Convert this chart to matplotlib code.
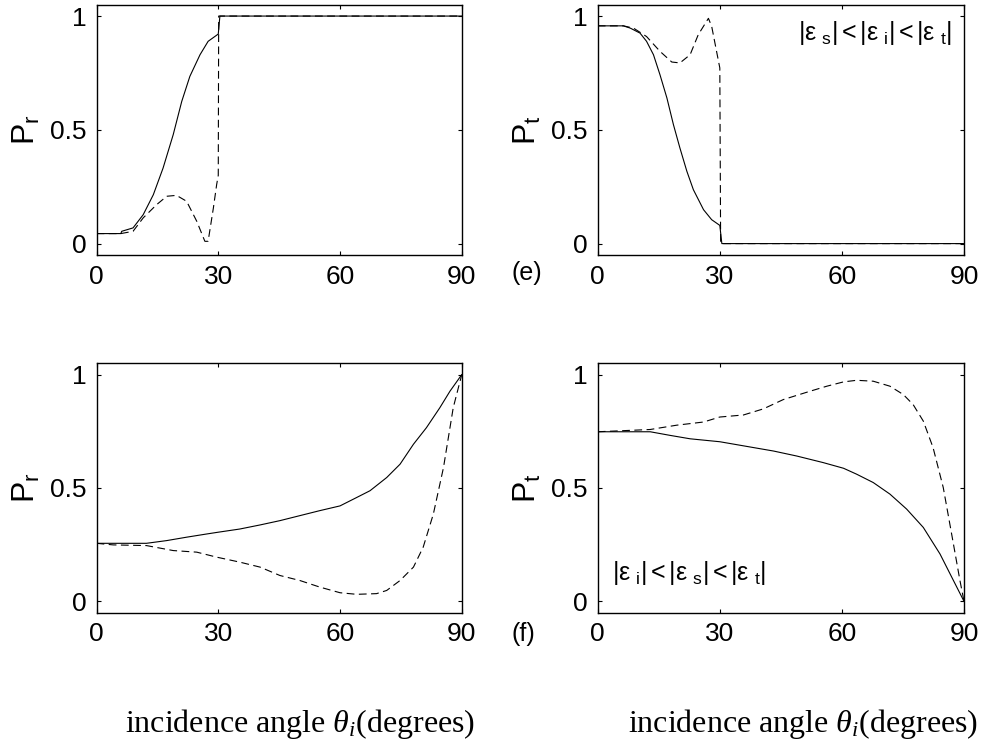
import matplotlib
matplotlib.use("Agg")
import matplotlib.pyplot as plt

plt.rcParams["font.family"] = ["Liberation Sans", "DejaVu Sans"]
plt.rcParams["mathtext.fontset"] = "custom"
plt.rcParams["mathtext.rm"] = "Liberation Serif"
plt.rcParams["mathtext.it"] = "Liberation Serif:italic"

# (e) |eps_s|<|eps_i|<|eps_t| : reflected power
e_r_ang = [0, 6, 6.2, 9, 11.5, 14, 16.4, 18.9, 21, 23, 25.5, 27.5, 30, 30.4, 90]
e_r_solid = [0.044, 0.044, 0.054, 0.069, 0.127, 0.215, 0.332, 0.479, 0.625, 0.735,
             0.83, 0.889, 0.921, 1.0, 1.0]
e_r_dash_ang = [0, 6, 9, 11.5, 14.8, 17.3, 19.7, 22.2, 24.7, 26.7, 27.5, 28.8,
                29.6, 30.0, 30.1, 90]
e_r_dash = [0.044, 0.044, 0.054, 0.113, 0.171, 0.208, 0.212, 0.186, 0.098, 0.01,
            0.01, 0.157, 0.259, 0.3, 1.0, 1.0]

# (e) transmitted power
e_t_ang = [0, 6.3, 8, 10.4, 12, 13.7, 15.3, 17, 18.6, 20.2, 21.9, 23.5, 26, 28, 30,
           30.5, 90]
e_t_solid = [0.957, 0.957, 0.947, 0.925, 0.889, 0.83, 0.742, 0.64, 0.523, 0.42, 0.318,
             0.237, 0.149, 0.105, 0.08, 0.0, 0.0]
e_t_dash_ang = [0, 6.3, 8.8, 12, 15.3, 18.2, 20.2, 22.7, 24.7, 27.2, 28, 29.2, 30,
                30.2, 90]
e_t_dash = [0.957, 0.957, 0.947, 0.91, 0.845, 0.798, 0.794, 0.83, 0.918, 0.99, 0.955,
            0.845, 0.772, 0.0, 0.0]

# (f) |eps_i|<|eps_s|<|eps_t| : reflected power
f_r_ang = [0, 12.3, 17.3, 22.2, 27.1, 30, 35.3, 40.3, 45.2, 50.1, 55, 60, 64.1, 67.4,
           71.5, 74.8, 78.1, 81.3, 84.6, 87.1, 90]
f_r_solid = [0.256, 0.256, 0.268, 0.283, 0.297, 0.305, 0.319, 0.337, 0.356, 0.378, 0.4,
             0.421, 0.458, 0.488, 0.546, 0.605, 0.693, 0.766, 0.854, 0.927, 1.0]
f_r_dash_ang = [0, 4.1, 12.3, 18.9, 24.7, 29.6, 35.3, 40.3, 45.2, 50.1, 55, 60, 64.1,
                69, 71.5, 74.8, 78.1, 80.5, 83, 85.5, 87.9, 90]
f_r_dash = [0.256, 0.249, 0.246, 0.224, 0.217, 0.195, 0.173, 0.151, 0.114, 0.092, 0.063,
            0.038, 0.031, 0.034, 0.048, 0.092, 0.151, 0.239, 0.385, 0.59, 0.854, 1.0]

# (f) transmitted power
f_t_ang = [0, 12.9, 17.8, 22.7, 30, 37.4, 43.2, 48.9, 55.4, 60.4, 63.6, 67.7, 71.8,
           75.9, 80, 84.1, 87.4, 90]
f_t_solid = [0.748, 0.748, 0.732, 0.717, 0.704, 0.681, 0.663, 0.641, 0.612, 0.587,
             0.561, 0.524, 0.473, 0.407, 0.326, 0.209, 0.092, 0.0]
f_t_dash_ang = [0, 12.9, 19.4, 26, 30, 35.8, 40.7, 45.6, 52.2, 56.3, 60.4, 63.6, 67.7,
                71.8, 75.1, 77.5, 80, 82.4, 84.9, 87.4, 89, 90]
f_t_dash = [0.748, 0.758, 0.777, 0.791, 0.813, 0.822, 0.849, 0.89, 0.927, 0.949, 0.968,
            0.975, 0.971, 0.949, 0.912, 0.868, 0.795, 0.678, 0.502, 0.253, 0.092, 0.0]

xticks = [0, 30, 60, 90]
yticks = [0, 0.5, 1]

fig = plt.figure(figsize=(9.86, 7.44), dpi=100)
axTL = fig.add_axes([0.0979, 0.6573, 0.3704, 0.3364])
axTR = fig.add_axes([0.6062, 0.6573, 0.3715, 0.3364])
axBL = fig.add_axes([0.0979, 0.1765, 0.3704, 0.3352])
axBR = fig.add_axes([0.6062, 0.1765, 0.3715, 0.3352])

panels = [
    (axTL, e_r_ang, e_r_solid, e_r_dash_ang, e_r_dash, r"$\mathregular{P_r}$"),
    (axTR, e_t_ang, e_t_solid, e_t_dash_ang, e_t_dash, r"$\mathregular{P_t}$"),
    (axBL, f_r_ang, f_r_solid, f_r_dash_ang, f_r_dash, r"$\mathregular{P_r}$"),
    (axBR, f_t_ang, f_t_solid, f_t_dash_ang, f_t_dash, r"$\mathregular{P_t}$"),
]

for ax, xs, ys, xd, yd, lab in panels:
    ax.plot(xs, ys, color="black", lw=0.8)
    ax.plot(xd, yd, color="black", lw=0.8, dashes=(7, 4))
    ax.set_xlim(0, 90)
    ax.set_ylim(-0.05, 1.05)
    ax.set_xticks(xticks)
    ax.set_yticks(yticks)
    ax.set_xticklabels(["0", "30", "60", "90"])
    ax.set_yticklabels(["0", "0.5", "1"])
    ax.tick_params(direction="in", top=True, right=True, length=3, width=0.8,
                   labelsize=19, color="black")
    ax.tick_params(axis="x", pad=7)
    ax.tick_params(axis="y", pad=7)
    for s in ax.spines.values():
        s.set_linewidth(1.0)
    ax.set_ylabel(lab, fontsize=23, labelpad=6)

axTR.text(49.2, 0.893, r"$\mathregular{|{\epsilon\ }_s|<|{\epsilon\ }_i|<|{\epsilon\ }_t|}$",
          fontsize=18, ha="left", va="baseline")
axBR.text(3.4, 0.092, r"$\mathregular{|{\epsilon\ }_i|<|{\epsilon\ }_s|<|{\epsilon\ }_t|}$",
          fontsize=18, ha="left", va="baseline")

fig.text(0.519, 0.633, "(e)", fontsize=18, ha="left", va="center")
fig.text(0.519, 0.148, "(f)", fontsize=18, ha="left", va="center")

xlab = r"incidence angle $\theta_i$(degrees)"
fig.text(0.304, 0.016, xlab, fontsize=23, family="Liberation Serif", ha="center", va="baseline")
fig.text(0.814, 0.016, xlab, fontsize=23, family="Liberation Serif", ha="center", va="baseline")

plt.savefig("out.png", format="png", dpi=100)
